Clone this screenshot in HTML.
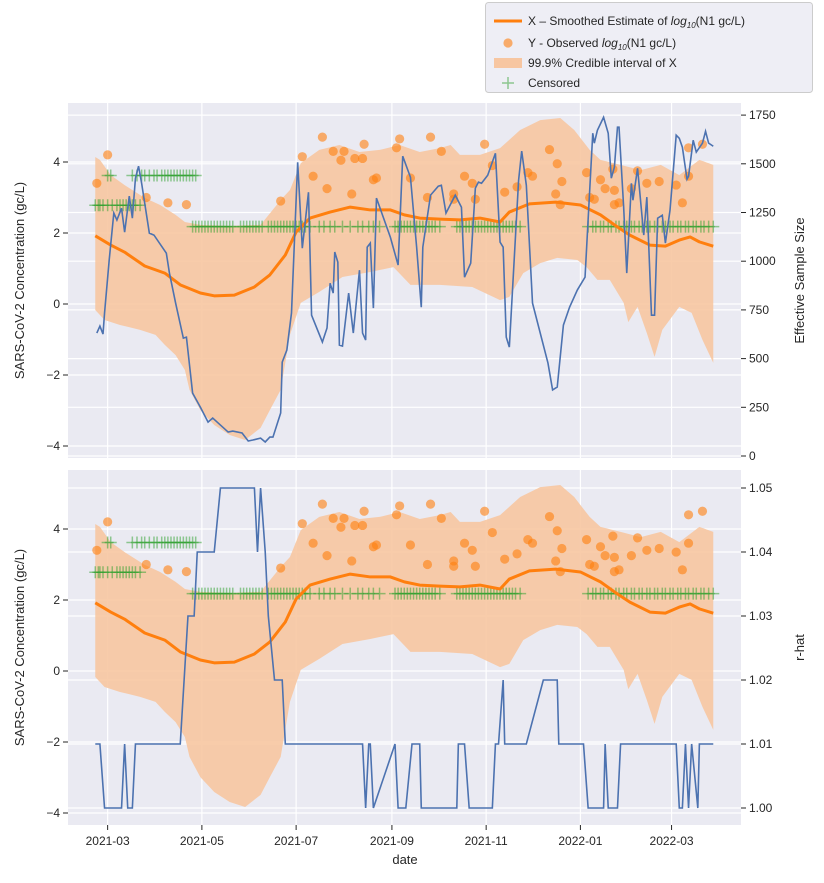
<!DOCTYPE html>
<html><head><meta charset="utf-8">
<style>
html,body{margin:0;padding:0;background:#fff;}
svg text{font-family:"Liberation Sans","DejaVu Sans",sans-serif;fill:#262626;}
</style></head>
<body>
<svg id="chart" width="824" height="878" viewBox="0 0 824 878" xmlns="http://www.w3.org/2000/svg"></svg>
<script>
// day offsets relative to 2021-02-26
const tickDays = [3,64,125,187,248,309,368];
const tickLabels = ["2021-03","2021-05","2021-07","2021-09","2021-11","2022-01","2022-03"];
const leftTicks = [4,2,0,-2,-4];
const essTicks = [0,250,500,750,1000,1250,1500,1750];
const rhatTicks = [1.00,1.01,1.02,1.03,1.04,1.05];

const smoothDays = [-5,5,14,27,40,50,63,72,85,98,108,118,125,134,147,160,173,186,195,205,218,231,244,257,263,276,293,309,322,331,341,354,364,373,380,386,395];
const smoothVals = [1.92,1.66,1.46,1.07,0.87,0.54,0.31,0.23,0.25,0.48,0.82,1.38,2.03,2.42,2.59,2.73,2.65,2.65,2.51,2.42,2.39,2.37,2.42,2.31,2.59,2.82,2.87,2.79,2.51,2.23,1.94,1.66,1.63,1.8,1.89,1.75,1.63];

const upperDays = [-5,-2,5,14,27,37,47,53,63,82,102,115,121,128,140,153,166,179,192,205,218,225,231,244,257,270,283,296,305,315,322,335,348,361,373,386,395];
const upperVals = [4.14,4.06,3.63,3.35,2.99,2.79,2.51,2.31,2.23,2.2,2.23,2.93,3.21,3.97,4.34,4.48,4.28,4.34,4.48,4.28,4.39,4.48,4.2,4.2,4.39,4.9,5.18,5.24,4.9,4.34,4.06,3.92,3.77,3.92,3.63,4.06,3.92];
const lowerDays = [-5,1,11,24,34,40,47,53,56,63,72,82,92,102,108,115,121,128,140,155,173,188,199,218,239,257,263,272,283,294,307,313,320,328,337,340,346,352,357,362,373,381,388,395];
const lowerVals = [-0.17,-0.45,-0.59,-0.73,-0.87,-1.15,-1.44,-1.86,-2.42,-2.99,-3.41,-3.69,-3.83,-3.49,-2.99,-2.42,-0.87,0.03,0.34,0.76,0.9,1.04,0.54,0.54,0.48,0.11,0.2,0.87,1.15,1.30,1.24,1.04,0.68,0.68,0.03,-0.51,-0.08,-0.82,-1.49,-0.73,-0.08,-0.25,-1.01,-1.66];

const obsDays = [-4,3,28,42,54,115,129,136,142,145,149,154,156,161,163,168,169,175,177,190,192,199,210,212,219,227,227,234,239,241,247,252,260,268,275,278,289,293,294,296,297,313,315,318,322,325,330,331,331,334,342,346,352,360,371,375,379,379,388];
const obsVals = [3.4,4.2,3.0,2.85,2.8,2.9,4.15,3.6,4.7,3.25,4.3,4.05,4.3,3.1,4.1,4.1,4.5,3.5,3.55,4.4,4.65,3.55,3.0,4.7,4.3,3.1,2.95,3.6,3.4,2.95,4.5,3.9,3.15,3.3,3.7,3.6,4.35,3.1,3.95,2.8,3.45,3.7,3.0,2.95,3.5,3.25,3.8,3.2,2.8,2.85,3.25,3.75,3.4,3.45,3.35,2.85,3.6,4.4,4.5];

const cens36Days = [3,5,19,22,25,27,30,33,35,38,40,42,44,46,48,50,52,54,56,58,60];
const cens28Days = [-5,-3,-2,0,3,6,9,11,13,15,17,19,21,24];
const cens22Days = [58,60,62,64,66,68,70,72,74,76,78,80,82,84,89,91,93,95,97,99,101,103,107,109,111,113,115,117,119,121,123,125,127,129,131,134,140,143,147,150,155,160,165,168,172,175,179,189,191,193,195,197,199,201,203,205,207,209,211,213,215,218,229,231,233,235,237,239,241,243,245,247,249,251,253,255,257,259,261,263,265,267,270,314,317,319,322,324,327,329,332,334,337,339,342,344,347,349,352,354,357,359,362,364,367,369,372,374,377,379,382,384,387,389,392,395];
const censVals = [3.62,2.78,2.18];

const essDays = [-4,-2,0,1,4,7,9,12,14,17,19,21,23,25,30,33,41,43,47,52,54,58,63,68,71,81,84,90,94,97,102,105,108,110,115,116,119,122,126,129,133,135,142,145,147,149,150,152,153,155,159,162,166,168,170,171,173,175,177,186,191,194,199,203,206,207,212,217,219,222,228,232,234,238,241,243,245,249,254,257,259,261,263,269,271,274,278,288,291,294,298,302,307,312,317,318,320,324,327,329,331,333,334,337,339,342,343,346,350,352,355,357,359,362,364,367,371,373,375,378,379,382,384,388,390,392,395];
const essVals = [631,667,626,734,1005,1247,1211,1272,1149,1334,1221,1426,1488,1400,1144,1134,1041,939,785,605,610,323,251,174,195,123,128,118,77,82,92,72,97,97,221,482,544,734,1508,1067,1354,723,585,657,887,836,1047,995,569,564,836,631,954,631,595,1072,1093,759,1324,1123,980,1539,1431,1072,764,1072,1339,1385,1390,1247,1339,1277,918,990,1375,1406,1400,1441,1554,1098,1072,610,559,1416,1565,1390,785,477,339,354,672,764,852,918,1657,1606,1672,1739,1657,1426,1483,1688,1688,1277,939,1400,1313,1477,1134,1329,723,723,1221,1236,1093,1262,1647,1631,1585,1421,1436,1621,1560,1606,1667,1606,1590];

const rhatDays = [-5,-2,1,12,14,16,19,21,50,55,59,61,72,76,98,100,102,105,107,111,116,118,168,170,172,173,175,189,191,196,200,205,206,229,230,234,237,252,254,256,259,260,274,285,294,295,311,314,324,325,327,333,335,371,373,375,377,379,381,385,386,395];
const rhatVals = [1.01,1.01,1.00,1.00,1.01,1.00,1.00,1.01,1.01,1.03,1.03,1.04,1.04,1.05,1.05,1.04,1.05,1.04,1.03,1.02,1.02,1.01,1.01,1.00,1.01,1.01,1.00,1.01,1.00,1.00,1.01,1.01,1.00,1.00,1.01,1.01,1.00,1.00,1.01,1.01,1.02,1.01,1.01,1.02,1.02,1.01,1.01,1.00,1.00,1.01,1.00,1.00,1.01,1.01,1.00,1.00,1.01,1.00,1.01,1.00,1.01,1.01];

const NS = "http://www.w3.org/2000/svg";
const svg = document.getElementById('chart');
const X0 = 68, X1 = 741;
const panels = [{top:103,bot:458,zero:304},{top:470,bot:825,zero:671}];
function xS(d){ return 103 + d*1.545; }
function yL(p,v){ return panels[p].zero - v*35.5; }
function yE(v){ return 456 - v*0.1948; }
function yR(v){ return 808 - (v-1)*6400; }
function mk(tag, attrs, parent){
  const e = document.createElementNS(NS, tag);
  for (const k in attrs) e.setAttribute(k, attrs[k]);
  (parent||svg).appendChild(e);
  return e;
}
function txt(s, attrs, parent){ const t = mk('text', attrs, parent); t.textContent = s; return t; }

const defs = mk('defs', {});
panels.forEach((P,i)=>{
  const cp = mk('clipPath',{id:'clip'+i},defs);
  mk('rect',{x:X0,y:P.top,width:X1-X0,height:P.bot-P.top},cp);
});

panels.forEach((P,pi)=>{
  const g = mk('g',{});
  
  
  const bg = mk('rect',{x:X0,y:P.top,width:X1-X0,height:P.bot-P.top,fill:'#eaeaf2'},g);
  
  
  // grid
  tickDays.forEach(d=>{ mk('line',{x1:xS(d),x2:xS(d),y1:P.top,y2:P.bot,stroke:'#fff','stroke-width':1.2},g); });
  leftTicks.forEach(v=>{ mk('line',{x1:X0,x2:X1,y1:yL(pi,v),y2:yL(pi,v),stroke:'#fff','stroke-width':1.2},g); });
  if (pi===0) essTicks.forEach(v=>{ mk('line',{x1:X0,x2:X1,y1:yE(v),y2:yE(v),stroke:'#fff','stroke-width':1.2},g); });
  else rhatTicks.forEach(v=>{ mk('line',{x1:X0,x2:X1,y1:yR(v),y2:yR(v),stroke:'#fff','stroke-width':1.2},g); });

  const c = mk('g',{'clip-path':'url(#clip'+pi+')'},g);
  // band
  let pts = upperDays.map((d,i)=>xS(d)+','+yL(pi,upperVals[i]));
  for (let i=lowerDays.length-1;i>=0;i--) pts.push(xS(lowerDays[i])+','+yL(pi,lowerVals[i]));
  const band = mk('polygon',{points:pts.join(' '),fill:'#f7c6a1','fill-opacity':0.9},c);
  
  
  // observed
  obsDays.forEach((d,i)=>{
    const o = mk('circle',{cx:xS(d),cy:yL(pi,obsVals[i]),r:4.6,fill:'#ff7f0e','fill-opacity':0.6},c);
    
    
  });
  // censored
  [cens36Days,cens28Days,cens22Days].forEach((arr,k)=>{
    arr.forEach(d=>{
      const x = xS(d), y = yL(pi,censVals[k]);
      const p = mk('path',{d:`M${x-6},${y}H${x+6}M${x},${y-6}V${y+6}`,stroke:'#2ca02c','stroke-opacity':0.5,'stroke-width':1.5,fill:'none'},c);
      
      
    });
  });
  // smoothed
  const sm = mk('polyline',{points:smoothDays.map((d,i)=>xS(d)+','+yL(pi,smoothVals[i])).join(' '),fill:'none',stroke:'#ff7f0e','stroke-width':3,'stroke-linejoin':'round'},c);
  
  
  // diagnostics line
  let dl;
  if (pi===0) dl = mk('polyline',{points:essDays.map((d,i)=>xS(d)+','+yE(essVals[i])).join(' '),fill:'none',stroke:'#4c72b0','stroke-width':1.6},c);
  else dl = mk('polyline',{points:rhatDays.map((d,i)=>xS(d)+','+yR(rhatVals[i])).join(' '),fill:'none',stroke:'#4c72b0','stroke-width':1.6},c);
  
  

  // left ticks
  leftTicks.forEach(v=>{
    mk('line',{x1:X0-5,x2:X0,y1:yL(pi,v),y2:yL(pi,v),stroke:'#262626','stroke-width':1},g);
    const t = txt(v<0 ? '\u2212'+Math.abs(v) : String(v),{x:X0-8,y:yL(pi,v)+4,'font-size':12,'text-anchor':'end'},g);
    
    
  });
  // right ticks
  if (pi===0) essTicks.forEach(v=>{
    mk('line',{x1:X1,x2:X1+5,y1:yE(v),y2:yE(v),stroke:'#262626','stroke-width':1},g);
    const t = txt(String(v),{x:X1+8,y:yE(v)+4,'font-size':12},g);
    
    
  });
  else rhatTicks.forEach(v=>{
    mk('line',{x1:X1,x2:X1+5,y1:yR(v),y2:yR(v),stroke:'#262626','stroke-width':1},g);
    const t = txt(v.toFixed(2),{x:X1+8,y:yR(v)+4,'font-size':12},g);
    
    
  });
  const yl = txt('SARS-CoV-2 Concentration (gc/L)',{x:0,y:0,'font-size':13,'text-anchor':'middle',transform:`translate(24,${(P.top+P.bot)/2}) rotate(-90)`},g);
  
  
  const yr = txt(pi===0?'Effective Sample Size':'r-hat',{x:0,y:0,'font-size':13,'text-anchor':'middle',transform:`translate(804,${(P.top+P.bot)/2}) rotate(-90)`},g);
  
  
});

// x ticks on bottom panel
tickDays.forEach((d,i)=>{
  mk('line',{x1:xS(d),x2:xS(d),y1:825,y2:830,stroke:'#262626','stroke-width':1});
  const t = txt(tickLabels[i],{x:xS(d),y:845,'font-size':12,'text-anchor':'middle'});
  
  
});
const xt = txt('date',{x:405,y:864,'font-size':13,'text-anchor':'middle'});



// legend
const lg = mk('g',{});


mk('rect',{x:485.5,y:2.5,width:327,height:90,rx:3,fill:'#eaeaf2','fill-opacity':0.8,stroke:'#cccccc'},lg);
mk('line',{x1:494,x2:522,y1:21,y2:21,stroke:'#ff7f0e','stroke-width':3},lg);
const l1 = mk('text',{x:528,y:25,'font-size':12},lg);
l1.innerHTML = 'X \u2013 Smoothed Estimate of <tspan font-style="italic">log</tspan><tspan font-size="8" dy="3" font-style="italic">10</tspan><tspan dy="-3">(N1 gc/L)</tspan>';


mk('circle',{cx:508,cy:43,r:4.6,fill:'#ff7f0e','fill-opacity':0.6},lg);
const l2 = mk('text',{x:528,y:47,'font-size':12},lg);
l2.innerHTML = 'Y - Observed <tspan font-style="italic">log</tspan><tspan font-size="8" dy="3" font-style="italic">10</tspan><tspan dy="-3">(N1 gc/L)</tspan>';


mk('rect',{x:494,y:58,width:28,height:10,fill:'#f7c6a1'},lg);
const l3 = txt('99.9% Credible interval of X',{x:528,y:67,'font-size':12},lg);


mk('path',{d:'M502,83H514M508,77V89',stroke:'#2ca02c','stroke-opacity':0.5,'stroke-width':1.5},lg);
const l4 = txt('Censored',{x:528,y:87,'font-size':12},lg);


</script>
</body></html>
